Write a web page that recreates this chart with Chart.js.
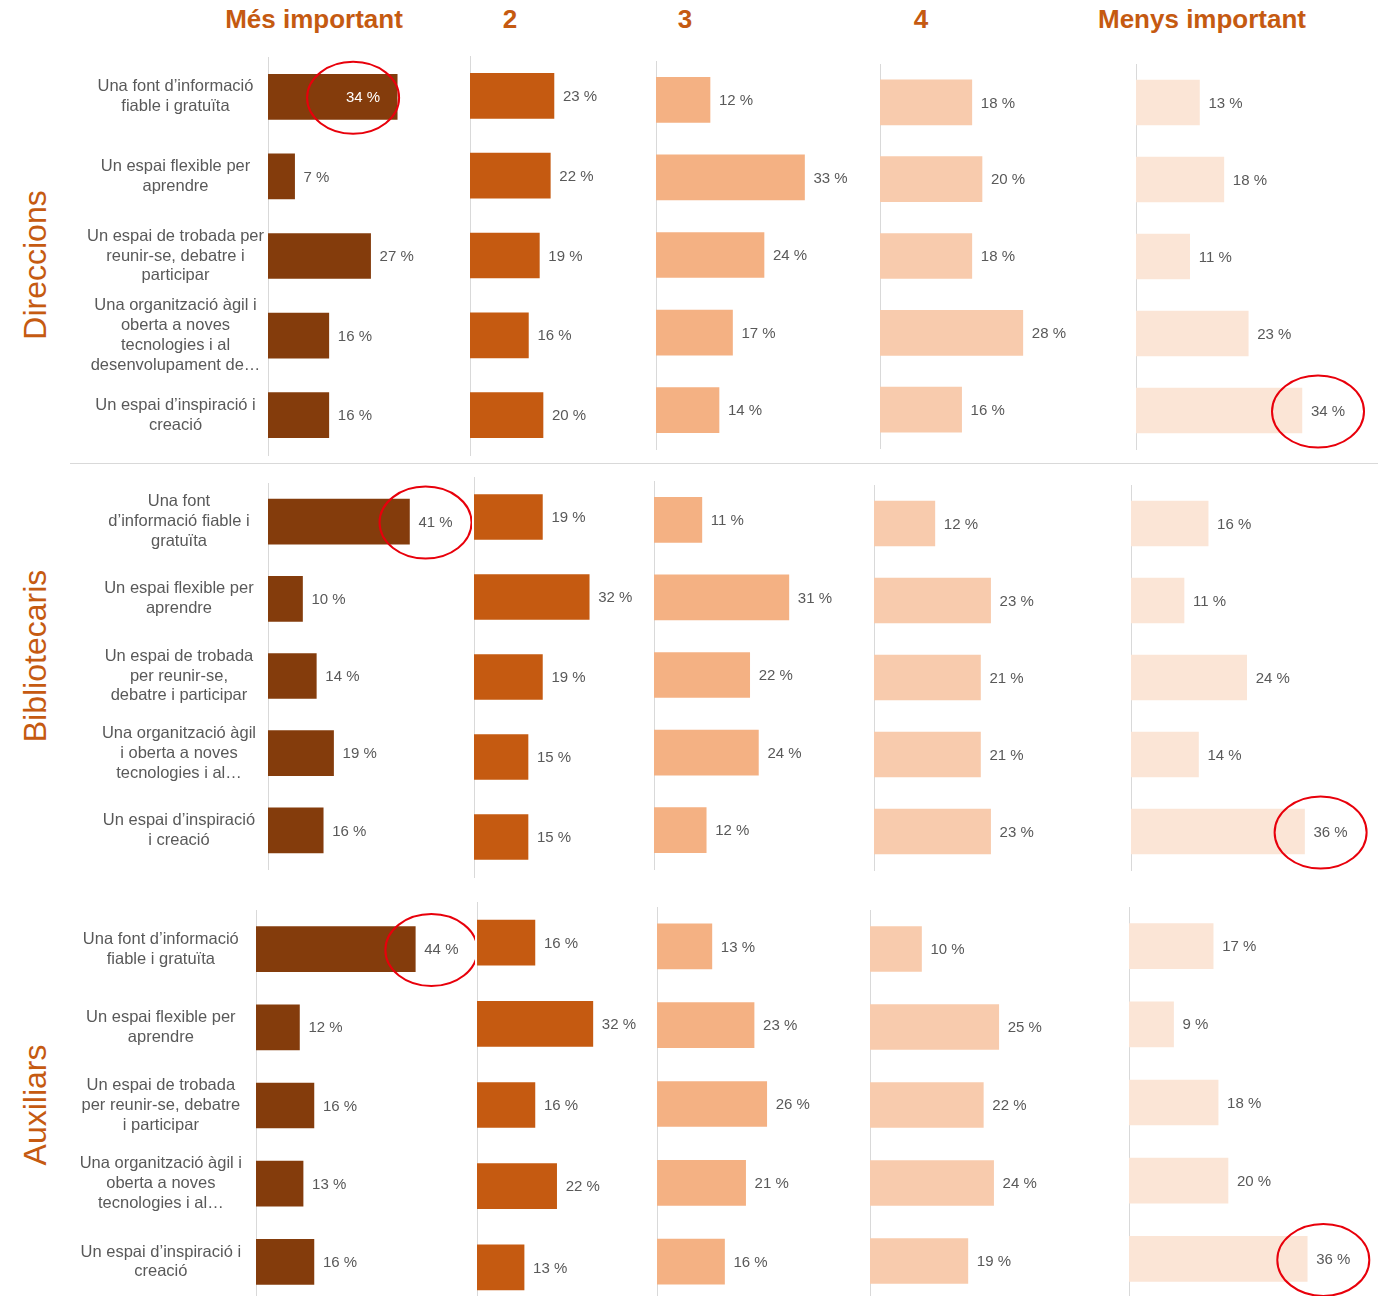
<!DOCTYPE html>
<html><head><meta charset="utf-8">
<script src="https://cdn.jsdelivr.net/npm/chart.js@4.4.1/dist/chart.umd.min.js"></script>
<style>
body{margin:0;background:#fff;width:1384px;height:1296px;position:relative;overflow:hidden;font-family:'Liberation Sans',Arial,sans-serif;}
.h{position:absolute;top:4px;font-weight:bold;font-size:26px;line-height:30px;color:#C55A11;transform:translateX(-50%);white-space:nowrap}
.rl{position:absolute;font-size:32px;line-height:36px;color:#C55A11;transform:translate(-50%,-50%) rotate(-90deg);white-space:nowrap}
.p{position:absolute}
.sep{position:absolute;left:70px;width:1308px;top:463px;height:1px;background:#d9d9d9}
</style></head><body>
<div class="sep"></div>
<script>
// ---------- DATA ----------
const columns = ['Més important', '2', '3', '4', 'Menys important'];
const groups = ['Direccions', 'Bibliotecaris', 'Auxiliars'];
const categories = [
  'Una font d’informació fiable i gratuïta',
  'Un espai flexible per aprendre',
  'Un espai de trobada per reunir-se, debatre i participar',
  'Una organització àgil i oberta a noves tecnologies i al desenvolupament de…',
  'Un espai d’inspiració i creació'
];
const labelsDireccions = [
  ['Una font d’informació', 'fiable i gratuïta'],
  ['Un espai flexible per', 'aprendre'],
  ['Un espai de trobada per', 'reunir-se, debatre i', 'participar'],
  ['Una organització àgil i', 'oberta a noves', 'tecnologies i al', 'desenvolupament de…'],
  ['Un espai d’inspiració i', 'creació']
];
const labelsBibliotecaris = [
  ['Una font', 'd’informació fiable i', 'gratuïta'],
  ['Un espai flexible per', 'aprendre'],
  ['Un espai de trobada', 'per reunir-se,', 'debatre i participar'],
  ['Una organització àgil', 'i oberta a noves', 'tecnologies i al…'],
  ['Un espai d’inspiració', 'i creació']
];
const labelsAuxiliars = [
  ['Una font d’informació', 'fiable i gratuïta'],
  ['Un espai flexible per', 'aprendre'],
  ['Un espai de trobada', 'per reunir-se, debatre', 'i participar'],
  ['Una organització àgil i', 'oberta a noves', 'tecnologies i al…'],
  ['Un espai d’inspiració i', 'creació']
];
// values per column (Més important, 2, 3, 4, Menys important), in category order
const valuesDireccions = [
  [34, 7, 27, 16, 16],
  [23, 22, 19, 16, 20],
  [12, 33, 24, 17, 14],
  [18, 20, 18, 28, 16],
  [13, 18, 11, 23, 34]
];
const valuesBibliotecaris = [
  [41, 10, 14, 19, 16],
  [19, 32, 19, 15, 15],
  [11, 31, 22, 24, 12],
  [12, 23, 21, 21, 23],
  [16, 11, 24, 14, 36]
];
const valuesAuxiliars = [
  [44, 12, 16, 13, 16],
  [16, 32, 16, 22, 13],
  [13, 23, 26, 21, 16],
  [10, 25, 22, 24, 19],
  [17, 9, 18, 20, 36]
];
// highlighted cells: [column, category]
const highlightDireccions = [[0, 0], [4, 4]];
const highlightBibliotecaris = [[0, 0], [4, 4]];
const highlightAuxiliars = [[0, 0], [4, 4]];

// ---------- STYLE / LAYOUT ----------
const colColors = ['#843C0C', '#C55A11', '#F4B183', '#F8CBAD', '#FBE5D6'];
const headerX = [314, 510, 685, 921, 1202];
const rowLabelPos = [[35, 265], [35, 656], [35, 1105]];
const rowLayout = [
  {axisX: [268, 470, 656, 880, 1136], first: [97, 96, 100, 102, 102], last: [415, 415, 410, 409, 410], pxPer: [3.8, 3.65, 4.5, 5.1, 4.88], tickPad: 4},
  {axisX: [268, 474, 654, 874, 1131], first: [522, 517, 520, 523, 523], last: [831, 837, 830, 831, 831], pxPer: [3.45, 3.6, 4.35, 5.07, 4.82], tickPad: 12},
  {axisX: [256, 477, 657, 870, 1129], first: [949, 943, 946, 949, 946], last: [1262, 1268, 1261, 1261, 1259], pxPer: [3.62, 3.62, 4.22, 5.15, 4.95], tickPad: 14}
];
const labelAreaLeft = 60;
const PAD = 14;
const FONT = "'Liberation Sans', Arial, sans-serif";

const rowLabels = [labelsDireccions, labelsBibliotecaris, labelsAuxiliars];
const rowValues = [valuesDireccions, valuesBibliotecaris, valuesAuxiliars];
const rowHighlights = [highlightDireccions, highlightBibliotecaris, highlightAuxiliars];
const insideLabels = [[0, 0, 0]]; // [row, column, category] label drawn inside bar

columns.forEach((c, i) => {
  const d = document.createElement('div');
  d.className = 'h'; d.style.left = headerX[i] + 'px'; d.textContent = c;
  document.body.appendChild(d);
});
groups.forEach((g, i) => {
  const d = document.createElement('div');
  d.className = 'rl'; d.style.left = rowLabelPos[i][0] + 'px'; d.style.top = rowLabelPos[i][1] + 'px'; d.textContent = g;
  document.body.appendChild(d);
});

const valueLabels = {
  id: 'valueLabels',
  afterDatasetsDraw(chart, args, opts) {
    const ctx = chart.ctx;
    const meta = chart.getDatasetMeta(0);
    const data = chart.data.datasets[0].data;
    ctx.save();
    ctx.font = '15px ' + FONT;
    ctx.textBaseline = 'middle';
    meta.data.forEach((bar, i) => {
      const txt = data[i] + ' %';
      const w = ctx.measureText(txt).width;
      let tx;
      if ((opts.inside || []).includes(i)) {
        ctx.fillStyle = '#ffffff'; ctx.textAlign = 'left';
        tx = bar.x - 17 - w;
      } else {
        ctx.fillStyle = '#595959'; ctx.textAlign = 'left';
        tx = bar.x + 9;
      }
      ctx.fillText(txt, tx, bar.y + 1);
      if ((opts.circles || []).includes(i)) {
        const cx = tx + w / 2 - 10;
        ctx.beginPath();
        ctx.strokeStyle = '#E8000B';
        ctx.lineWidth = 2;
        ctx.ellipse(cx, bar.y + 1, 46, 36, 0, 0, Math.PI * 2);
        ctx.stroke();
      }
    });
    ctx.restore();
  }
};

rowLayout.forEach((L, r) => {
  columns.forEach((col, c) => {
    const first = L.first[c], last = L.last[c];
    const spacing = (last - first) / 4;
    const areaTop = first - spacing / 2;
    const areaH = spacing * 5;
    const isFirst = c === 0;
    const left = isFirst ? labelAreaLeft : L.axisX[c] - 2;
    const right = c < 4 ? L.axisX[c + 1] - 2 : 1384;
    const width = Math.round(right - left);
    const height = Math.round(areaH + PAD * 2);
    const top = Math.round(areaTop - PAD);
    const yWidth = isFirst ? L.axisX[c] - labelAreaLeft : 0;
    const padLeft = isFirst ? 0 : 2;
    const areaW = width - yWidth - padLeft;

    const div = document.createElement('div');
    div.className = 'p';
    div.style.left = left + 'px'; div.style.top = top + 'px';
    div.style.width = width + 'px'; div.style.height = height + 'px';
    const cv = document.createElement('canvas');
    cv.width = width; cv.height = height;
    cv.style.width = width + 'px'; cv.style.height = height + 'px';
    div.appendChild(cv);
    document.body.appendChild(div);

    const circles = rowHighlights[r].filter(h => h[0] === c).map(h => h[1]);
    const inside = insideLabels.filter(h => h[0] === r && h[1] === c).map(h => h[2]);

    new Chart(cv, {
      type: 'bar',
      data: {
        labels: rowLabels[r],
        datasets: [{
          data: rowValues[r][c],
          backgroundColor: colColors[c],
          borderWidth: 0,
          barThickness: 45
        }]
      },
      options: {
        indexAxis: 'y',
        responsive: false,
        animation: false,
        events: [],
        layout: {padding: {top: PAD, bottom: PAD, left: padLeft, right: 0}},
        scales: {
          x: {display: false, min: 0, max: areaW / L.pxPer[c]},
          y: {
            display: true,
            grid: {display: false, drawTicks: false},
            border: {display: true, color: '#d9d9d9', width: 1},
            ticks: {
              display: isFirst,
              crossAlign: 'center',
              padding: L.tickPad,
              color: '#595959',
              font: {size: 16.5, family: FONT, lineHeight: 1.2},
              autoSkip: false
            },
            afterFit: (s) => { s.width = yWidth; s.paddingTop = 0; s.paddingBottom = 0; }
          }
        },
        plugins: {
          legend: {display: false},
          tooltip: {enabled: false},
          valueLabels: {circles: circles, inside: inside}
        }
      },
      plugins: [valueLabels]
    });
  });
});
</script>
</body></html>
